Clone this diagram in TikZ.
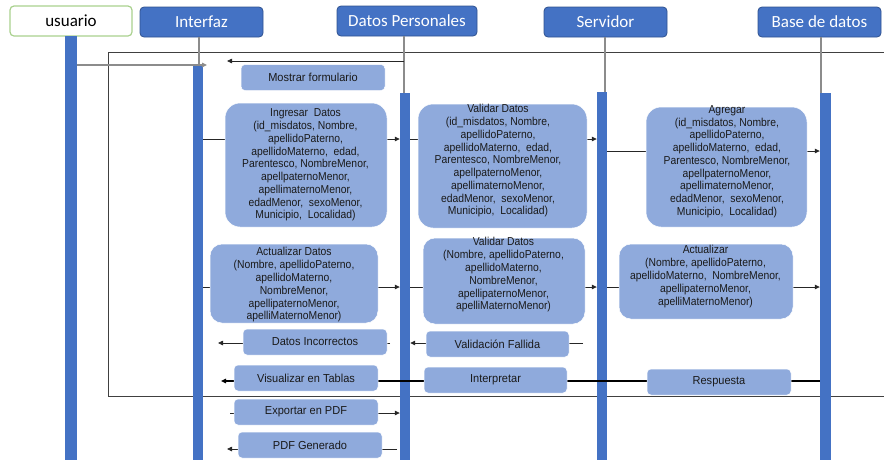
\documentclass[tikz,border=0pt]{standalone}
\usepackage{fontspec}
\setmainfont{Liberation Sans}
\newfontfamily\hdrfont{Carlito}
\newfontfamily\msgfont[FakeStretch=0.9]{Liberation Sans}
\newfontfamily\lblfont[FakeStretch=0.95]{Liberation Sans}
\usetikzlibrary{arrows.meta}
\definecolor{hdrblue}{HTML}{4472C4}
\definecolor{hdrborder}{HTML}{2F528F}
\definecolor{usrgreen}{HTML}{A9D18E}
\definecolor{msgfill}{HTML}{8FAADC}
\definecolor{msgtext}{HTML}{1A1A1A}
\definecolor{linecol}{HTML}{262626}
\definecolor{framecol}{HTML}{404040}
\definecolor{lifecol}{HTML}{8C8C8C}
\begin{document}
\begin{tikzpicture}[x=1pt,y=-1pt,
  hdr/.style={rectangle, rounded corners=4pt, fill=hdrblue, draw=hdrborder, line width=0.8pt,
    text=white, font=\hdrfont\fontsize{17}{20}\selectfont, minimum height=30pt, inner sep=0pt},
  actor/.style={hdr, fill=white, draw=usrgreen, line width=1.2pt, text=black},
  bar/.style={rectangle, fill=hdrblue, draw=none, inner sep=0pt, minimum width=10.5pt, anchor=north},
  lifeline/.style={draw=lifecol, line width=1.1pt},
  frame/.style={draw=framecol, line width=0.9pt},
  msgbox/.style={rectangle, fill=msgfill, draw=white, line width=0.5pt, inner sep=0pt,
    text=msgtext, font=\lblfont\fontsize{11.6}{13}\selectfont,
    minimum width=144pt, minimum height=26pt, rounded corners=4pt},
  bigbox/.style={msgbox, rounded corners=15pt},
  mtext/.style={align=center, inner sep=0pt, text=msgtext},
  tight/.style={font=\msgfont\fontsize{11.5}{12.75}\selectfont},
  loose/.style={font=\msgfont\fontsize{11.5}{12.8}\selectfont},
  looser/.style={font=\msgfont\fontsize{11.5}{13.2}\selectfont},
  msg/.style={draw=linecol, line width=0.8pt, -{Triangle[length=5pt,width=4.5pt]}},
  graymsg/.style={msg, draw=lifecol, line width=1.1pt},
  thickmsg/.style={msg, draw=black, line width=1.4pt}
]
\useasboundingbox (0,0) rectangle (884,459);

% frame
\draw[frame] (884,52) -- (108,52) -- (108,396) -- (884,396);

% headers
\node[actor, minimum width=122pt] (usr) at (71,21) {usuario};
\node[hdr, minimum width=123pt] (ifz) at (201.5,22) {Interfaz};
\node[hdr, minimum width=140pt] (dph) at (407,21) {Datos Personales};
\node[hdr, minimum width=123pt] (srv) at (605.5,22) {Servidor};
\node[hdr, minimum width=123pt] (bdd) at (819.5,22) {Base de datos};

% activation bars
\node[bar, minimum width=12pt, minimum height=425pt] (ubar) at (71,36) {};
\node[bar, minimum width=10pt, minimum height=396pt] (ibar) at (198,65) {};
\node[bar, minimum width=10pt, minimum height=368pt] (dbar) at (405,93) {};
\node[bar, minimum width=10pt, minimum height=369pt] (sbar) at (602,92) {};
\node[bar, minimum width=11pt, minimum height=368pt] (bbar) at (825.5,93) {};

% lifelines
\coordinate (ifl) at (199,37);
\coordinate (dpl) at (404,36);
\coordinate (svl) at (605,37);
\coordinate (bdl) at (821,37);
\draw[lifeline] (ifl) -- (ifl |- ibar.north);
\draw[lifeline] (dpl) -- (dpl |- dbar.north);
\draw[lifeline] (svl) -- (svl |- sbar.north);
\draw[lifeline] (bdl) -- (bdl |- bbar.north);

% row coordinates
\coordinate (r0) at (0,65);
\coordinate (rm) at (0,61);
\coordinate (r1) at (0,139);
\coordinate (r2) at (0,151);
\coordinate (r3) at (0,287);
\coordinate (r4) at (0,343);
\coordinate (r5) at (0,381);
\coordinate (r6) at (0,413);
\coordinate (r7) at (0,449);
\coordinate (uend) at (207,65);
\coordinate (mend) at (227,61);
\coordinate (diS) at (390,343);
\coordinate (diE) at (218,343);
\coordinate (vfS) at (583,343);
\coordinate (viE) at (221,381);
\coordinate (exS) at (230,413);
\coordinate (pgS) at (397,449);
\coordinate (pgE) at (227,449);

% messages (connectors)
\draw[graymsg] (ubar.east |- r0) -- (uend);
\draw[msg] (dpl |- rm) -- (mend);
\draw[msg] (ibar.east |- r1) -- (dbar.west |- r1);
\draw[msg] (dbar.east |- r1) -- (sbar.west |- r1);
\draw[msg] (sbar.east |- r2) -- (bbar.west |- r2);
\draw[msg] (ibar.east |- r3) -- (dbar.west |- r3);
\draw[msg] (dbar.east |- r3) -- (sbar.west |- r3);
\draw[msg] (sbar.east |- r3) -- (bbar.west |- r3);
\draw[msg] (diS) -- (diE);
\draw[msg] (vfS) -- (dbar.east |- r4);
\draw[thickmsg] (bbar.west |- r5) -- (viE);
\draw[msg] (exS) -- (dbar.west |- r6);
\draw[msg] (pgS) -- (pgE);

% message boxes
\node[msgbox] (mostrar) at (313,77.5) {Mostrar formulario};

\node[bigbox, minimum width=162pt, minimum height=124pt] (ingresar) at (306,165) {};
\node[mtext, tight] (ingresarT) at (305.5,165) {Ingresar\ \ Datos\\(id\_misdatos, Nombre,\\apellidoPaterno,\\apellidoMaterno,\ \ edad,\\Parentesco, NombreMenor,\\apellpaternoMenor,\\apellimaternoMenor,\\edadMenor,\ \ sexoMenor,\\Municipio,\ \ Localidad)};

\node[bigbox, minimum width=169pt, minimum height=124pt] (validar) at (502.5,166) {};
\node[mtext, tight] (validarT) at (498,161) {Validar Datos\\(id\_misdatos, Nombre,\\apellidoPaterno,\\apellidoMaterno,\ \ edad,\\Parentesco, NombreMenor,\\apellpaternoMenor,\\apellimaternoMenor,\\edadMenor,\ \ sexoMenor,\\Municipio,\ \ Localidad)};

\node[bigbox, minimum width=161pt, minimum height=120pt] (agregar) at (726.5,167) {};
\node[mtext, tight] (agregarT) at (727,161.5) {Agregar\\(id\_misdatos, Nombre,\\apellidoPaterno,\\apellidoMaterno,\ \ edad,\\Parentesco, NombreMenor,\\apellpaternoMenor,\\apellimaternoMenor,\\edadMenor,\ \ sexoMenor,\\Municipio,\ \ Localidad)};

\node[bigbox, rounded corners=12pt, minimum width=168pt, minimum height=79pt] (actdatos) at (294,283.5) {};
\node[mtext, loose] (actdatosT) at (294,285) {Actualizar Datos\\(Nombre, apellidoPaterno,\\apellidoMaterno,\\NombreMenor,\\apellipaternoMenor,\\apelliMaternoMenor)};

\node[bigbox, rounded corners=12pt, minimum width=162pt, minimum height=86pt] (validar2) at (504,281) {};
\node[mtext, loose] (validar2T) at (503.5,275) {Validar Datos\\(Nombre, apellidoPaterno,\\apellidoMaterno,\\NombreMenor,\\apellipaternoMenor,\\apelliMaternoMenor)};

\node[bigbox, rounded corners=12pt, minimum width=174pt, minimum height=75pt] (actualizar) at (706,281.5) {};
\node[mtext, looser] (actualizarT) at (705.5,276.5) {Actualizar\\(Nombre, apellidoPaterno,\\apellidoMaterno,\ \ NombreMenor,\\apellipaternoMenor,\\apelliMaternoMenor)};

\node[msgbox] (datosinc) at (315,342) {Datos Incorrectos};
\node[msgbox, minimum width=143pt] (valfall) at (497.5,344) {Validación Fallida};
\node[msgbox] (visual) at (306,378) {Visualizar en Tablas};
\node[msgbox, minimum width=143pt] (interp) at (495.5,380) {Interpretar};
\node[msgbox] (resp) at (719,382) {Respuesta};
\node[msgbox] (export) at (306,412) {Exportar en PDF};
\node[msgbox] (pdfgen) at (310,445) {PDF Generado};
\end{tikzpicture}
\end{document}
